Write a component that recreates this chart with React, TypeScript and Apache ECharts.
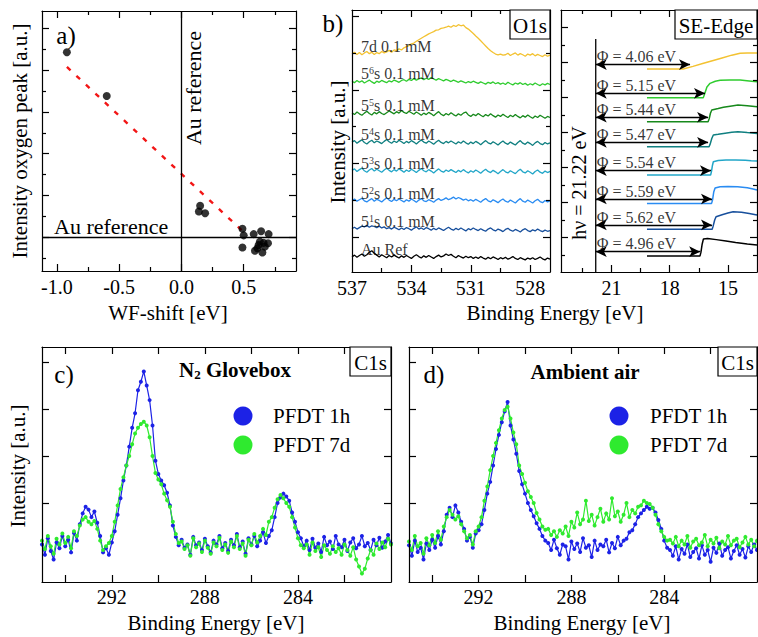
import React, { useEffect, useRef } from 'react';
import * as echarts from 'echarts';

const SERIF = "'Liberation Serif', 'Times New Roman', serif";
const INK = '#000000';
const W = 758;
const H = 637;

// ---------- a) oxygen peak intensity vs. work-function shift ----------
const WF_SHIFT = [-0.92, -0.6, 0.15, 0.14, 0.19, 0.49, 0.5, 0.49, 0.58, 0.64, 0.7, 0.63, 0.66, 0.695, 0.61, 0.59, 0.65, 0.67, 0.62];
const O_PEAK = [4.43, 3.38, 0.75, 0.61, 0.57, 0.2, 0.04, -0.25, 0.07, 0.14, 0.07, -0.11, -0.14, -0.15, -0.27, -0.33, -0.37, -0.23, -0.19];
const FIT_WF = [-0.92, 0.51];
const FIT_PEAK = [4.08, 0.09];
const WF_LABELS = [-1, -0.5, 0, 0.5];

// ---------- b) O1s spectra (537 -> 527 eV, 0.125 eV steps), stacked ----------
const O1S_FROM = 537;
const O1S_STEP = 0.125;
const O1S_NAMES = ['7d 0.1 mM', '5^6s 0.1 mM', '5^5s 0.1 mM', '5^4s 0.1 mM', '5^3s 0.1 mM', '5^2s 0.1 mM', '5^1s 0.1 mM', 'Au Ref'];
const SAMPLE_COLORS = ['#f3c232', '#2fcc2f', '#17891c', '#0f7f80', '#22a6c8', '#2a8cf2', '#174f9c', '#000000'];
const O1S_7D = [498, 503, 497, 502, 496, 501, 505, 499, 503, 497, 502, 499, 505, 501,
  504, 508, 503, 509, 507, 512, 509, 515,
  518, 521, 526, 528, 533, 537, 541, 545,
  549, 553, 556, 559, 563, 564, 568, 569,
  571, 574, 571, 576, 573, 578, 575, 577,
  570, 566, 560, 554, 547, 541, 534, 527,
  520, 513, 507, 502, 498, 496, 498, 495,
  496, 500, 494, 498, 501, 495, 499, 496, 492, 498, 495, 499, 493, 497, 494, 491, 496, 492, 495];
const O1S_56 = [424, 420, 426, 421, 425, 419, 423, 427, 422, 418, 424, 421, 426, 423, 420, 425, 422, 427, 424, 421,
  426, 428, 424, 429, 426, 431, 427, 430, 433, 428, 432, 429, 434, 430, 427, 431, 428, 425, 429, 426,
  423, 427, 424, 421, 425, 422, 419, 423, 420, 424, 421, 418, 422, 419, 416, 421, 418, 422, 417, 420,
  416, 419, 415, 421, 417, 414, 419, 416, 420, 415, 418, 413, 417, 414, 419, 415, 412, 417, 414, 418, 415];
const O1S_55 = [338, 333, 340, 335, 331, 337, 342, 336, 332, 339, 335, 341, 336, 333, 338, 343, 339, 335, 341, 337,
  344, 339, 336, 342, 338, 334, 340, 336, 331, 337, 333, 339, 335, 330, 336, 341, 334, 330, 336, 332,
  338, 333, 329, 335, 331, 337, 340, 332, 328, 334, 330, 336, 331, 327, 333, 329, 335, 330, 326, 332,
  328, 334, 329, 325, 331, 327, 333, 328, 324, 330, 326, 332, 327, 323, 329, 325, 331, 327, 323, 328, 325];
const O1S_54 = [258, 262, 255, 260, 264, 257, 253, 259, 263, 256, 261, 258, 254, 260, 265, 259, 255, 261, 257, 263,
  259, 254, 260, 256, 262, 258, 253, 259, 264, 258, 255, 261, 257, 252, 258, 263, 257, 254, 260, 256,
  261, 257, 253, 259, 255, 261, 256, 252, 258, 254, 260, 256, 251, 257, 262, 256, 253, 259, 255, 250,
  256, 261, 255, 252, 258, 254, 250, 257, 262, 255, 252, 258, 254, 249, 256, 260, 254, 251, 257, 253, 256];
const O1S_53 = [181, 185, 178, 183, 187, 180, 176, 182, 186, 179, 184, 180, 176, 182, 187, 181, 177, 183, 179, 185,
  181, 176, 182, 178, 184, 180, 175, 181, 186, 180, 177, 183, 179, 174, 180, 185, 179, 176, 182, 178,
  183, 179, 175, 181, 177, 183, 178, 174, 180, 176, 182, 178, 173, 179, 184, 178, 175, 181, 177, 172,
  178, 183, 177, 174, 180, 176, 172, 179, 184, 177, 174, 180, 176, 171, 178, 182, 176, 173, 179, 175, 178];
const O1S_52 = [99, 103, 97, 101, 105, 98, 95, 100, 104, 97, 102, 99, 95, 101, 106, 100, 96, 102, 98, 103,
  99, 95, 101, 97, 103, 99, 94, 100, 104, 98, 96, 101, 98, 94, 100, 104, 99, 102, 106, 101,
  104, 108, 103, 107, 104, 100, 103, 98, 101, 97, 102, 98, 94, 100, 104, 98, 95, 101, 97, 93,
  99, 103, 97, 94, 100, 96, 92, 99, 104, 97, 94, 100, 96, 92, 98, 102, 96, 93, 99, 95, 98];
const O1S_51 = [22, 26, 21, 25, 29, 27, 31, 26, 30, 28, 25, 29, 24, 27, 22, 25, 21, 26, 23, 19,
  24, 20, 25, 22, 18, 23, 27, 21, 24, 20, 25, 22, 18, 23, 19, 24, 21, 17, 22, 26,
  21, 18, 23, 19, 24, 20, 16, 22, 19, 24, 20, 17, 22, 18, 15, 21, 24, 19, 16, 21,
  18, 14, 20, 23, 18, 15, 20, 17, 13, 19, 22, 17, 14, 19, 16, 21, 17, 14, 18, 15, 17];
const O1S_AU = [-55, -50, -56, -51, -47, -53, -49, -42, -38, -45, -50, -55, -49, -53, -57, -51, -55, -50, -54, -58,
  -52, -56, -51, -55, -59, -53, -49, -54, -58, -52, -56, -51, -55, -59, -54, -50, -55, -52, -47, -51,
  -48, -53, -57, -51, -55, -58, -53, -57, -54, -59, -55, -59, -54, -58, -61, -56, -60, -55, -58, -62,
  -57, -60, -56, -61, -58, -54, -59, -62, -57, -60, -63, -58, -61, -57, -62, -59, -55, -60, -63, -58, -61];
const O1S_TRACES = [O1S_7D, O1S_56, O1S_55, O1S_54, O1S_53, O1S_52, O1S_51, O1S_AU];
const O1S_LABEL_E = 536.55;

// ---------- b) secondary-electron cut-off ----------
const SE_PHI = [4.06, 5.15, 5.44, 5.47, 5.54, 5.59, 5.62, 4.96];
const SE_CUTOFF = [16.95, 16.18, 16.02, 16.02, 15.87, 15.82, 15.82, 16.43];
const HV_LINE_E = 21.81;
const HV_LINE_TOP = 12.34;
const SE_TRACES: number[][][] = [
  [[19.17, 10.63], [17.3, 10.63], [16.8, 10.78], [16.3, 10.94], [15.8, 11.1], [15.3, 11.26], [14.8, 11.42], [14.37, 11.53], [14.0, 11.55], [13.5, 11.55]],
  [[19.17, 8.99], [16.27, 8.99], [16.2, 9.2], [16.08, 9.6], [15.92, 9.81], [15.65, 9.93], [15.4, 9.98], [14.9, 10.0], [14.37, 10.0], [13.9, 9.95], [13.5, 9.9]],
  [[19.17, 7.62], [16.02, 7.62], [15.96, 7.8], [15.9, 8.1], [15.83, 8.29], [15.5, 8.37], [15.23, 8.44], [14.8, 8.52], [14.48, 8.57], [14.0, 8.53], [13.5, 8.47]],
  [[19.17, 6.19], [15.97, 6.19], [15.91, 6.35], [15.83, 6.66], [15.75, 6.86], [15.5, 6.9], [15.23, 6.95], [14.8, 7.01], [14.48, 7.05], [14.0, 7.0], [13.5, 6.95]],
  [[19.17, 4.57], [15.89, 4.57], [15.85, 4.75], [15.8, 5.1], [15.75, 5.33], [15.5, 5.4], [15.1, 5.43], [14.6, 5.43], [14.1, 5.42], [13.8, 5.39], [13.5, 5.37]],
  [[19.17, 2.95], [15.84, 2.95], [15.79, 3.15], [15.73, 3.6], [15.66, 3.83], [15.4, 3.9], [15.0, 3.92], [14.5, 3.9], [14.0, 3.84], [13.7, 3.77], [13.5, 3.71]],
  [[19.17, 1.47], [15.81, 1.47], [15.76, 1.65], [15.68, 2.0], [15.61, 2.19], [15.3, 2.3], [15.0, 2.4], [14.73, 2.47], [14.3, 2.44], [13.9, 2.37], [13.5, 2.29]],
  [[19.17, -0.06], [16.44, -0.06], [16.39, 0.15], [16.33, 0.6], [16.26, 0.92], [16.05, 0.95], [15.6, 0.88], [15.1, 0.8], [14.6, 0.72], [14.0, 0.63], [13.5, 0.57]],
];

// ---------- c), d) C1s spectra (295 -> 280 eV, 0.125 eV steps) ----------
const C1S_FROM = 295;
const C1S_STEP = 0.125;
const C1S_NAMES = ['PFDT 1h', 'PFDT 7d'];
const C1S_COLORS = ['#1c22e6', '#2fea2f'];
const GLOVEBOX_1H = [-88, -110, -75, -102, -120, -84, -96, -70,
  -92, -78, -105, -64, -80,
  -45, -22, -8, -14, -30, -18, -42,
  -70, -105, -96, -110, -84, -60,
  -25, 10, 48, 80, 120, 160,
  191, 240, 258, 280, 250, 219, 165,
  90, 62, 48, 38, 22, -5, -48, -72, -90,
  -78, -95, -88, -110, -72, -90, -84, -100, -76, -92, -105, -80, -88, -70, -96, -85,
  -102, -78, -90, -66, -94, -82, -108, -75, -88, -70, -92, -80, -62, -85, -70, -58,
  -30, 0, 12, 20, 14, 5, -20, -40, -62, -75,
  -92, -80, -100, -76, -95, -86, -104, -72, -90, -82, -98, -70, -88, -94, -78, -102,
  -84, -75, -96, -88, -70, -92, -85, -100, -78, -90, -74, -95, -82, -68, -86];
const GLOVEBOX_7D = [-80, -98, -70, -92, -108, -76, -88, -65,
  -85, -72, -96, -60, -70,
  -48, -35, -30, -40, -45, -38, -55,
  -80, -100, -92, -85, -70, -40,
  -5, 30, 55, 80, 100, 125,
  148, 160, 168, 173, 165, 140, 100,
  64, 50, 40, 20, 6, -8, -40, -66, -85,
  -82, -98, -90, -112, -75, -94, -86, -104, -80, -95, -108, -84, -92, -74, -100, -88,
  -106, -82, -94, -70, -98, -86, -112, -78, -90, -66, -84, -70, -55, -68, -40, -30,
  -10, 8, 17, 10, 0, -8, -30, -52, -75, -90,
  -96, -88, -110, -84, -102, -94, -115, -90, -100, -108, -92, -104, -96, -110, -88, -100,
  -112, -94, -120, -135, -150, -140, -118, -100, -110, -86, -98, -84, -94, -76, -88];
const AIR_1H = [-90, -112, -80, -104, -95, -120, -86, -100,
  -78, -95, -70, -88, -60,
  -25, -10, -30, -5, -20, -40, -55,
  -80, -72, -95, -65, -58, -45,
  -15, 20, 45, 80, 115, 145,
  172, 195, 215, 165, 135, 105, 68,
  40, 20, 0, -15, -28, -43, -55, -70, -80,
  -85, -100, -78, -96, -110, -88, -92, -120, -82, -98, -86, -104, -75, -95, -90, -115,
  -80, -100, -88, -92, -78, -105, -85, -96, -72, -90, -80, -76, -62, -58, -45, -30,
  -22, -15, -8, -12, -10, -20, -36, -55, -80, -95,
  -100, -112, -92, -120, -98, -108, -88, -115, -104, -96, -118, -90, -110, -100, -125, -95,
  -106, -86, -112, -100, -94, -118, -102, -90, -110, -98, -116, -92, -104, -88, -100];
const AIR_7D = [-82, -100, -70, -92, -85, -108, -75, -90,
  -68, -85, -60, -78, -50,
  -30, -15, -25, -35, -28, -45, -60,
  -75, -68, -88, -60, -50, -30,
  5, 35, 70, 100, 128, 155,
  180, 198, 205, 180, 150, 125, 80,
  62, 43, 25, 13, 0, -21, -35, -50, -57,
  -55, -68, -60, -72, -58, -65, -50, -70, -40, -52, -20, -45, -35, 5, -38, -25,
  -48, -30, -12, -40, -22, -35, 10, -28, -18, -40, -25, 0, -30, -15, -22, -8,
  -5, 5, 0, -2, -10, -25, -45, -60, -72, -80,
  -78, -86, -72, -92, -80, -88, -70, -95, -82, -76, -90, -84, -68, -92, -78, -86,
  -74, -96, -82, -88, -70, -90, -80, -76, -94, -84, -72, -88, -78, -92, -80];

const LINE = { color: INK, width: 1.2 };

type AxisSpec = {
  min: number; max: number; inverse?: boolean;
  labels?: number[]; fmt?: (v: number) => string; margin?: number;
  major: number[]; minor?: number[];
};

// Each side of a frame gets its own axis (ticks point inward); minor ticks ride on an extra axis.
function addAxes(list: any[], dim: 'x' | 'y', grid: number, s: AxisSpec): number {
  const sides = dim === 'x' ? ['bottom', 'top'] : ['left', 'right'];
  const first = list.length;
  sides.forEach((pos, k) => {
    const base = {
      type: 'value', gridIndex: grid, position: pos, min: s.min, max: s.max,
      inverse: !!s.inverse, splitLine: { show: false }, z: 5,
    };
    list.push({
      ...base,
      axisLine: { show: true, onZero: false, lineStyle: LINE },
      axisTick: { show: true, inside: true, length: 7, lineStyle: LINE, customValues: s.major },
      axisLabel: k === 0 && s.labels
        ? { show: true, customValues: s.labels, formatter: s.fmt, margin: s.margin ?? 7, color: INK, fontSize: 20, fontFamily: SERIF }
        : { show: false },
    });
    if (s.minor) {
      list.push({
        ...base,
        axisLine: { show: false, onZero: false },
        axisTick: { show: true, inside: true, length: 4, lineStyle: LINE, customValues: s.minor },
        axisLabel: { show: false },
      });
    }
  });
  return first;
}

function txt(x: number, y: number, text: string, o: any = {}) {
  return {
    type: 'text', x, y, rotation: o.rot || 0, z: 100,
    style: {
      text, fontSize: o.size || 20, fontFamily: SERIF, fontWeight: o.bold ? 'bold' : 'normal',
      fill: INK, align: o.align || 'center', verticalAlign: 'middle',
      textAlign: o.align || 'center', textVerticalAlign: 'middle', rich: o.rich,
    },
  };
}

function labelBox(x: number, y: number, w: number, h: number, label: string) {
  return [
    { type: 'rect', z: 99, shape: { x, y, width: w, height: h }, style: { fill: '#fff', stroke: INK, lineWidth: 1.2 } },
    txt(x + w / 2, y + h / 2 + 1, label, { size: 21 }),
  ];
}

function legendMarks(cx: number, cy: number, tx: number) {
  return C1S_NAMES.flatMap((name, i) => [
    { type: 'circle', z: 100, shape: { cx, cy: cy + i * 29, r: 9.5 }, style: { fill: C1S_COLORS[i] } },
    txt(tx, cy + i * 29, name, { align: 'left', size: 21 }),
  ]);
}

const supLabel = (s: string) => {
  const m = s.match(/^(\d)\^(\d)(.*)$/);
  return m ? `{n|${m[1]}}{s|${m[2]}}{n|${m[3]}}` : `{n|${s}}`;
};

function buildOption() {
  const xAxis: any[] = [];
  const yAxis: any[] = [];
  const series: any[] = [];

  // a)
  const ax = addAxes(xAxis, 'x', 0, {
    min: -1.12, max: 0.92, labels: WF_LABELS, fmt: (v) => v.toFixed(1), margin: 6,
    major: WF_LABELS, minor: [-0.75, -0.25, 0.25, 0.75],
  });
  const ay = addAxes(yAxis, 'y', 0, {
    min: -0.815, max: 5.42, major: [0, 1, 2, 3, 4, 5], minor: [-0.5, 0.5, 1.5, 2.5, 3.5, 4.5],
  });
  series.push({
    type: 'line', xAxisIndex: ax, yAxisIndex: ay, showSymbol: false, z: 2,
    data: FIT_WF.map((x, i) => [x, FIT_PEAK[i]]),
    lineStyle: { color: '#f21616', width: 2.4, type: [5, 8] },
  });
  series.push({
    type: 'scatter', xAxisIndex: ax, yAxisIndex: ay, symbolSize: 8, z: 3,
    itemStyle: { color: INK },
    data: WF_SHIFT.map((x, i) => [x, O_PEAK[i]]),
    markLine: {
      silent: true, symbol: ['none', 'none'], label: { show: false },
      lineStyle: { color: INK, width: 1.3, type: 'solid' },
      data: [{ xAxis: 0 }, { yAxis: 0 }],
    },
  });

  // b) O1s
  const bx = addAxes(xAxis, 'x', 1, {
    min: 527, max: 537, inverse: true, labels: [537, 534, 531, 528], margin: 6,
    major: [534, 531, 528], minor: [535.5, 532.5, 529.5],
  });
  const by = addAxes(yAxis, 'y', 1, { min: -96, max: 618, major: [0, 200, 400, 600], minor: [100, 300, 500] });
  O1S_TRACES.forEach((tr, k) => {
    series.push({
      type: 'line', xAxisIndex: bx, yAxisIndex: by, showSymbol: false,
      data: tr.map((v, i) => [O1S_FROM - i * O1S_STEP, v]),
      lineStyle: { color: SAMPLE_COLORS[k], width: 1.3 },
    });
  });
  series.push({
    type: 'scatter', xAxisIndex: bx, yAxisIndex: by, symbolSize: 0, z: 6,
    data: O1S_TRACES.map((tr, k) => ({ value: [O1S_LABEL_E, tr[0] + 20], name: O1S_NAMES[k] })),
    label: {
      show: true, position: 'right', distance: 0,
      formatter: (p: any) => supLabel(p.name),
      rich: {
        n: { fontSize: 16, fontFamily: SERIF, color: INK },
        s: { fontSize: 10, fontFamily: SERIF, color: INK, verticalAlign: 'top' },
      },
    },
  });

  // b) SE edge
  const sx = addAxes(xAxis, 'x', 2, {
    min: 13.5, max: 23.6, inverse: true, labels: [21, 18, 15], margin: 6,
    major: [21, 18, 15], minor: [22.5, 19.5, 16.5],
  });
  const sy = addAxes(yAxis, 'y', 2, {
    min: -0.97, max: 14.0, major: [1, 3, 5, 7, 9, 11, 13], minor: [0, 2, 4, 6, 8, 10, 12],
  });
  SE_TRACES.forEach((tr, k) => {
    const arrowY = tr[0][1] + 0.25;
    series.push({
      type: 'line', xAxisIndex: sx, yAxisIndex: sy, showSymbol: false,
      data: tr, lineStyle: { color: SAMPLE_COLORS[k], width: 1.5 },
      markLine: {
        silent: true, symbol: ['arrow', 'arrow'], symbolSize: [8, 11], label: { show: false },
        lineStyle: { color: INK, width: 1.3, type: 'solid' },
        data: [[{ coord: [HV_LINE_E, arrowY] }, { coord: [SE_CUTOFF[k], arrowY] }]],
      },
    });
  });
  series.push({
    type: 'line', xAxisIndex: sx, yAxisIndex: sy, showSymbol: false,
    data: [[HV_LINE_E, -0.97], [HV_LINE_E, HV_LINE_TOP]],
    lineStyle: { color: INK, width: 1.3 },
  });
  series.push({
    type: 'scatter', xAxisIndex: sx, yAxisIndex: sy, symbolSize: 0, z: 6,
    data: SE_TRACES.map((tr, k) => ({ value: [HV_LINE_E, tr[0][1] + 0.7], name: `Φ = ${SE_PHI[k].toFixed(2)} eV` })),
    label: { show: true, position: 'right', distance: 1, formatter: '{b}', color: INK, fontSize: 16, fontFamily: SERIF },
  });

  // c), d) C1s
  const c1s = [[GLOVEBOX_1H, GLOVEBOX_7D], [AIR_1H, AIR_7D]];
  c1s.forEach((pair, p) => {
    const g = 3 + p;
    const cx = addAxes(xAxis, 'x', g, {
      min: 280, max: 295, inverse: true, labels: [292, 288, 284], margin: 5,
      major: [294, 292, 290, 288, 286, 284, 282],
    });
    const cy = addAxes(yAxis, 'y', g, { min: -168, max: 332, major: [0, 100, 200, 300] });
    pair.forEach((tr, k) => {
      series.push({
        type: 'line', xAxisIndex: cx, yAxisIndex: cy, name: C1S_NAMES[k],
        showSymbol: true, symbol: 'circle', symbolSize: 4,
        data: tr.map((v, i) => [C1S_FROM - i * C1S_STEP, v]),
        lineStyle: { color: C1S_COLORS[k], width: 1.2 },
        itemStyle: { color: C1S_COLORS[k] },
      });
    });
  });

  const graphic: any[] = [
    // panel letters
    txt(66, 35, 'a)', { size: 25 }),
    txt(333, 23, 'b)', { size: 25 }),
    txt(64, 374, 'c)', { size: 25 }),
    txt(434, 374, 'd)', { size: 25 }),
    // a) annotations
    txt(54, 226, 'Au reference', { align: 'left', size: 22 }),
    txt(193, 88, 'Au reference', { rot: Math.PI / 2, size: 22 }),
    txt(20, 141, 'Intensity oxygen peak [a.u.]', { rot: Math.PI / 2, size: 21 }),
    txt(168, 313, 'WF-shift [eV]', { size: 21 }),
    // b)
    txt(338, 142, 'Intensity [a.u.]', { rot: Math.PI / 2, size: 21 }),
    txt(555, 313, 'Binding Energy [eV]', { size: 21 }),
    txt(579, 183, 'hν = 21.22 eV', { rot: Math.PI / 2, size: 20 }),
    ...labelBox(510, 10, 40, 29, 'O1s'),
    ...labelBox(675, 10, 82, 29, 'SE-Edge'),
    // c), d)
    txt(18, 466, 'Intensity [a.u.]', { rot: Math.PI / 2, size: 21 }),
    txt(216, 623, 'Binding Energy [eV]', { size: 21 }),
    txt(582, 623, 'Binding Energy [eV]', { size: 21 }),
    txt(235, 370, '{b|N}{sub|2}{b| Glovebox}', {
      rich: {
        b: { fontSize: 21, fontWeight: 'bold', fontFamily: SERIF, fill: INK },
        sub: { fontSize: 13, fontWeight: 'bold', fontFamily: SERIF, fill: INK, verticalAlign: 'bottom' },
      },
    }),
    txt(585, 372, 'Ambient air', { bold: true, size: 21 }),
    ...labelBox(350, 347, 41, 29, 'C1s'),
    ...labelBox(718, 347, 39, 29, 'C1s'),
    ...legendMarks(243, 416, 273),
    ...legendMarks(619, 416, 650),
  ];

  return {
    animation: false,
    backgroundColor: '#ffffff',
    textStyle: { fontFamily: SERIF },
    grid: [
      { left: 42, top: 11, width: 254, height: 260 },
      { left: 352, top: 10, width: 198, height: 262 },
      { left: 561, top: 10, width: 196, height: 262 },
      { left: 42, top: 347, width: 349, height: 235 },
      { left: 409, top: 347, width: 348, height: 235 },
    ],
    xAxis, yAxis, series, graphic,
  };
}

export default function App() {
  const ref = useRef<HTMLDivElement>(null);
  useEffect(() => {
    if (!ref.current) return;
    const chart = echarts.init(ref.current, null, { renderer: 'svg', width: W, height: H });
    chart.setOption(buildOption() as any);
    return () => chart.dispose();
  }, []);
  return <div ref={ref} style={{ position: 'fixed', left: 0, top: 0, width: W, height: H, background: '#fff' }} />;
}
